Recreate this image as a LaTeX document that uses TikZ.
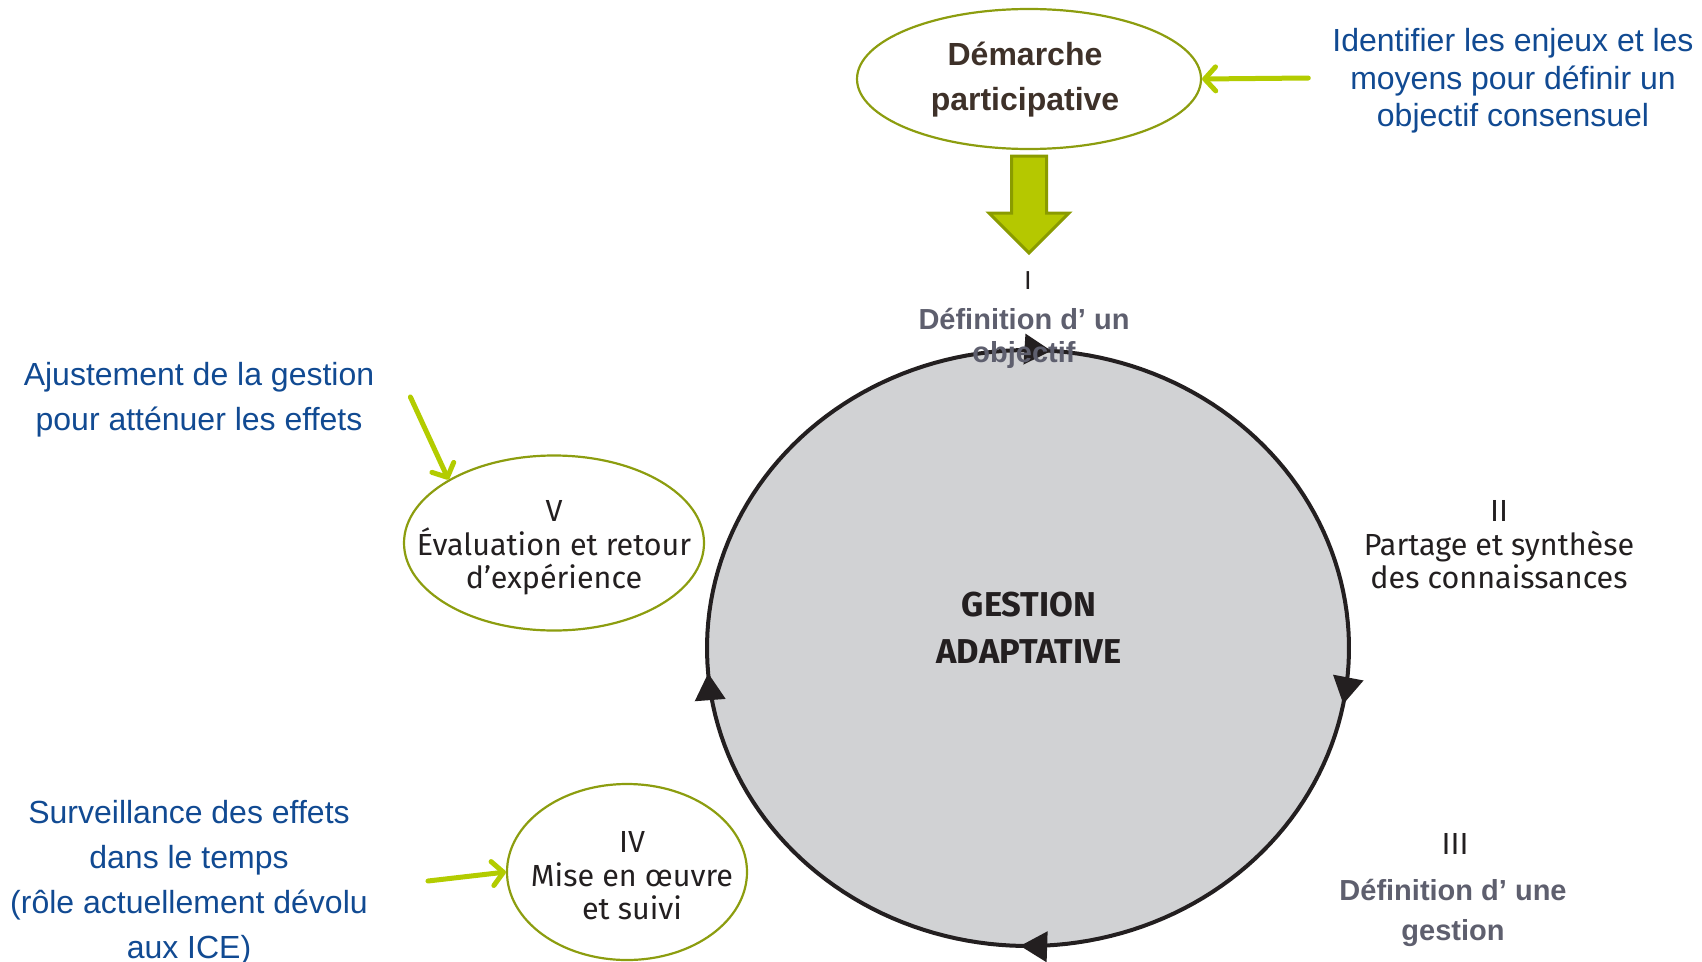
\documentclass[tikz,border=0pt]{standalone}
\usepackage{fontspec}
\setmainfont{Liberation Sans}
\newfontfamily\firaf{Fira Sans}
\newfontfamily\arialf{Liberation Sans}
\usetikzlibrary{shapes.geometric,arrows.meta,decorations.markings,calc}
\definecolor{bluetxt}{RGB}{17,74,146}
\definecolor{graytxt}{RGB}{94,95,110}
\definecolor{darktxt}{RGB}{35,31,32}
\definecolor{browntxt}{RGB}{62,49,41}
\definecolor{limegreen}{RGB}{179,204,0}
\definecolor{olivec}{RGB}{140,157,15}
\definecolor{arrowfill}{RGB}{181,200,0}
\definecolor{arrowdraw}{RGB}{138,155,0}
\definecolor{circgray}{RGB}{209,210,212}
\tikzset{
 bluetext/.style={inner sep=0pt, align=center, text=bluetxt, font=\arialf\fontsize{32}{45}\selectfont},
 graytext/.style={inner sep=0pt, align=center, text=graytxt, font=\arialf\bfseries\fontsize{29}{33}\selectfont},
 firatext/.style={inner sep=0pt, align=center, text=darktxt, font=\firaf\fontsize{30.5}{33.5}\selectfont},
 stageell/.style={ellipse, draw=olivec, line width=2.2pt, inner sep=0pt},
 garrow/.style={draw=limegreen, line width=5pt, line cap=round, -{Straight Barb[length=11pt,width=24pt,line cap=round,line join=round]}},
 bigarrow/.style={fill=arrowfill, draw=arrowdraw, line width=3pt, line join=miter},
 cyclestyle/.style={draw=darktxt, fill=circgray, line width=4pt},
 cyctip/.tip={Triangle[length=27pt,width=30pt]},
}
\begin{document}
\begin{tikzpicture}[x=1pt,y=-1pt]
\useasboundingbox (0,0) rectangle (1702,961);
% central cycle
\coordinate (cc) at (1028,648);
\draw[cyclestyle, postaction={decorate}, decoration={markings,
   mark=at position 0.140 with {\arrow[darktxt]{cyctip}},
   mark=at position 0.407 with {\arrow[darktxt]{cyctip}},
   mark=at position 0.632 with {\arrow[darktxt]{cyctip}},
   mark=at position 0.865 with {\arrow[darktxt]{cyctip}}}]
   plot[domain=-135:225, samples=181] ({1028+321*cos(\x)},{648+298*sin(\x)}) -- cycle;
\node[inner sep=0pt, align=center, text=darktxt, font=\firaf\bfseries\fontsize{34.5}{47}\selectfont] (gest) at (1029,628) {GESTION\\ADAPTATIVE};
% top ellipse
\node[stageell, minimum width=344pt, minimum height=140pt] (dem) at (1029,79) {};
\node[inner sep=0pt, align=center, text=browntxt, font=\arialf\bfseries\fontsize{32}{45}\selectfont] (demt) at ([xshift=-4pt,yshift=-1pt]dem.center) {Démarche\\participative};
\node[bluetext, font=\arialf\fontsize{32}{37.5}\selectfont] (idt) at (1513,81) {Identifier les enjeux et les\\moyens pour définir un\\objectif consensuel};
\draw[garrow] ([xshift=-24pt,yshift=3pt]idt.west) -- (dem.east);
% big arrow
\draw[bigarrow, shift={(dem.south)}] (-17.5,6) -- (-17.5,63) -- (-40,63) -- (0,103) -- (40,63) -- (17.5,63) -- (17.5,6) -- cycle;
% stage labels
\node[firatext, font=\firaf\fontsize{26}{30}\selectfont] (s1n) at (1028,281) {I};
\node[graytext] (s1) at (1024,338) {Définition d’ un\\objectif};
\node[firatext] (s2) at (1499,545) {II\\Partage et synthèse\\des connaissances};
\node[firatext] (s3n) at (1455,844) {III};
\node[graytext, font=\arialf\bfseries\fontsize{29}{40}\selectfont] (s3) at (1453,913) {Définition d’ une\\gestion};
\node[stageell, minimum width=300pt, minimum height=175pt] (s5) at (554,543) {};
\node[firatext] (s5t) at ([yshift=-5pt]s5.center) {V\\Évaluation et retour\\d’expérience};
\node[stageell, minimum width=240pt, minimum height=176pt] (s4) at (627,872) {};
\node[firatext] (s4t) at ([xshift=5pt,yshift=-4pt]s4.center) {IV\\Mise en œuvre\\et suivi};
% left annotations
\node[bluetext] (adj) at (199,400) {Ajustement de la gestion\\pour atténuer les effets};
\draw[garrow] ([xshift=36pt,yshift=3pt]adj.east) -- (s5.149);
\node[bluetext] (surv) at (189,883) {Surveillance des effets\\dans le temps\\(rôle actuellement dévolu\\aux ICE)};
\draw[garrow] ([xshift=60pt,yshift=2pt]surv.east) -- (s4.west);
\end{tikzpicture}
\end{document}
